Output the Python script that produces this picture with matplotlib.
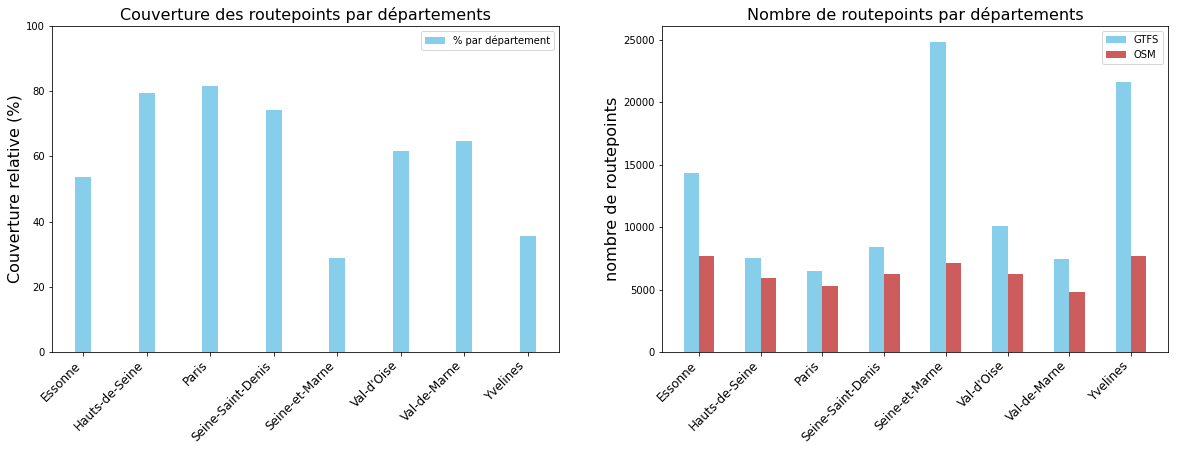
import matplotlib
matplotlib.use('Agg')
import matplotlib.pyplot as plt
import numpy as np
import pandas as pd

# data
departements = ['Essonne', 'Hauts-de-Seine', 'Paris', 'Seine-Saint-Denis',
                'Seine-et-Marne', "Val-d'Oise", 'Val-de-Marne', 'Yvelines']
couverture = [53.7, 79.4, 81.6, 74.2, 28.9, 61.7, 64.7, 35.7]
gtfs = [14300, 7520, 6500, 8420, 24850, 10100, 7450, 21650]
osm = [7700, 5960, 5300, 6250, 7150, 6250, 4820, 7700]

df_pct = pd.DataFrame({'% par département': couverture}, index=departements)
df_count = pd.DataFrame({'GTFS': gtfs, 'OSM': osm}, index=departements)

W, H = 1178, 451
fig = plt.figure(figsize=(W / 72, H / 72), dpi=72)
ax1 = fig.add_axes([52 / W, 1 - 352 / H, (559 - 52) / W, (352 - 26) / H])
ax2 = fig.add_axes([662 / W, 1 - 352 / H, (1168 - 662) / W, (352 - 26) / H])

# left: relative coverage
df_pct.plot.bar(ax=ax1, color='skyblue', width=0.25)
ax1.set_ylim(0, 100)
ax1.set_xlim(-0.49, 7.49)
ax1.set_title('Couverture des routepoints par départements', fontsize=16)
ax1.set_ylabel('Couverture relative (%)', fontsize=16)
ax1.set_xticklabels(departements, rotation=45, ha='right', fontsize=12)
ax1.legend(loc='upper right')

# right: counts
df_count.plot.bar(ax=ax2, color=['skyblue', 'indianred'], width=0.5)
ax2.set_xlim(-0.6, 7.6)
ax2.set_title('Nombre de routepoints par départements', fontsize=16)
ax2.set_ylabel('nombre de routepoints', fontsize=16)
ax2.set_xticklabels(departements, rotation=45, ha='right', fontsize=12)
ax2.legend(loc='upper right')

plt.savefig('out.png', dpi=72)
